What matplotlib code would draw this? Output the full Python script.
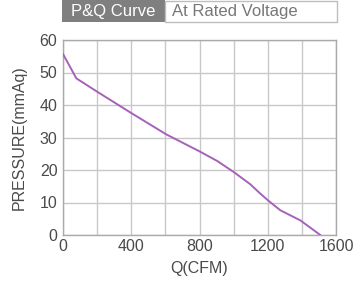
import matplotlib
matplotlib.use("Agg")
import matplotlib.pyplot as plt
from matplotlib.patches import Rectangle

plt.rcParams['font.family'] = ['Liberation Sans', 'DejaVu Sans']

# P-Q curve
flow_cfm = [0, 78, 209, 404, 604, 805, 903, 1000, 1098, 1157, 1205, 1274, 1391, 1508]
pressure_mmaq = [55.7, 48.2, 43.8, 37.4, 31.0, 25.6, 22.8, 19.4, 15.6, 12.7, 10.5, 7.6, 4.5, 0.0]

x_ticks = [0, 400, 800, 1200, 1600]
y_ticks = [0, 10, 20, 30, 40, 50, 60]
x_grid = [0, 200, 400, 600, 800, 1000, 1200, 1400, 1600]

W, H = 354, 282
fig = plt.figure(figsize=(W / 100, H / 100), dpi=100)
ax = fig.add_axes([63 / W, 1 - 235 / H, 273 / W, 195 / H])

# header tabs
fig.patches.append(Rectangle((62 / W, 1 - 22 / H), 103 / W, 22 / H,
                             transform=fig.transFigure, facecolor='#7f7f7f',
                             edgecolor='none'))
fig.patches.append(Rectangle((165 / W, 1 - 22 / H), 172 / W, 21 / H,
                             transform=fig.transFigure, facecolor='white',
                             edgecolor='#bdbdbd', linewidth=1))
fig.text(113 / W, 1 - 11.5 / H, 'P&Q Curve', color='white', fontsize=12,
         ha='center', va='center')
fig.text(172 / W, 1 - 11.5 / H, 'At Rated Voltage', color='#777777', fontsize=12,
         ha='left', va='center')

ax.plot(flow_cfm, pressure_mmaq, color='#a562b8', linewidth=1.4, zorder=3)

ax.set_xlim(0, 1600)
ax.set_ylim(0, 60)
ax.set_xticks(x_ticks)
ax.set_xticks(x_grid, minor=True)
ax.set_yticks(y_ticks)
ax.grid(True, which='both', color='#c8c8c8', linewidth=1)
ax.set_axisbelow(True)
ax.tick_params(which='both', length=0, labelsize=11.5, labelcolor='#4a4a4a')
ax.tick_params(axis='x', pad=3)
ax.tick_params(axis='y', pad=4)
for s in ax.spines.values():
    s.set_color('#aaaaaa')
    s.set_linewidth(1)

ax.set_xlabel('Q(CFM)', fontsize=11.5, color='#4a4a4a', labelpad=5)
ax.set_ylabel('PRESSURE(mmAq)', fontsize=11.5, color='#4a4a4a', labelpad=9)

plt.savefig('out.png', dpi=100)
plt.close()
